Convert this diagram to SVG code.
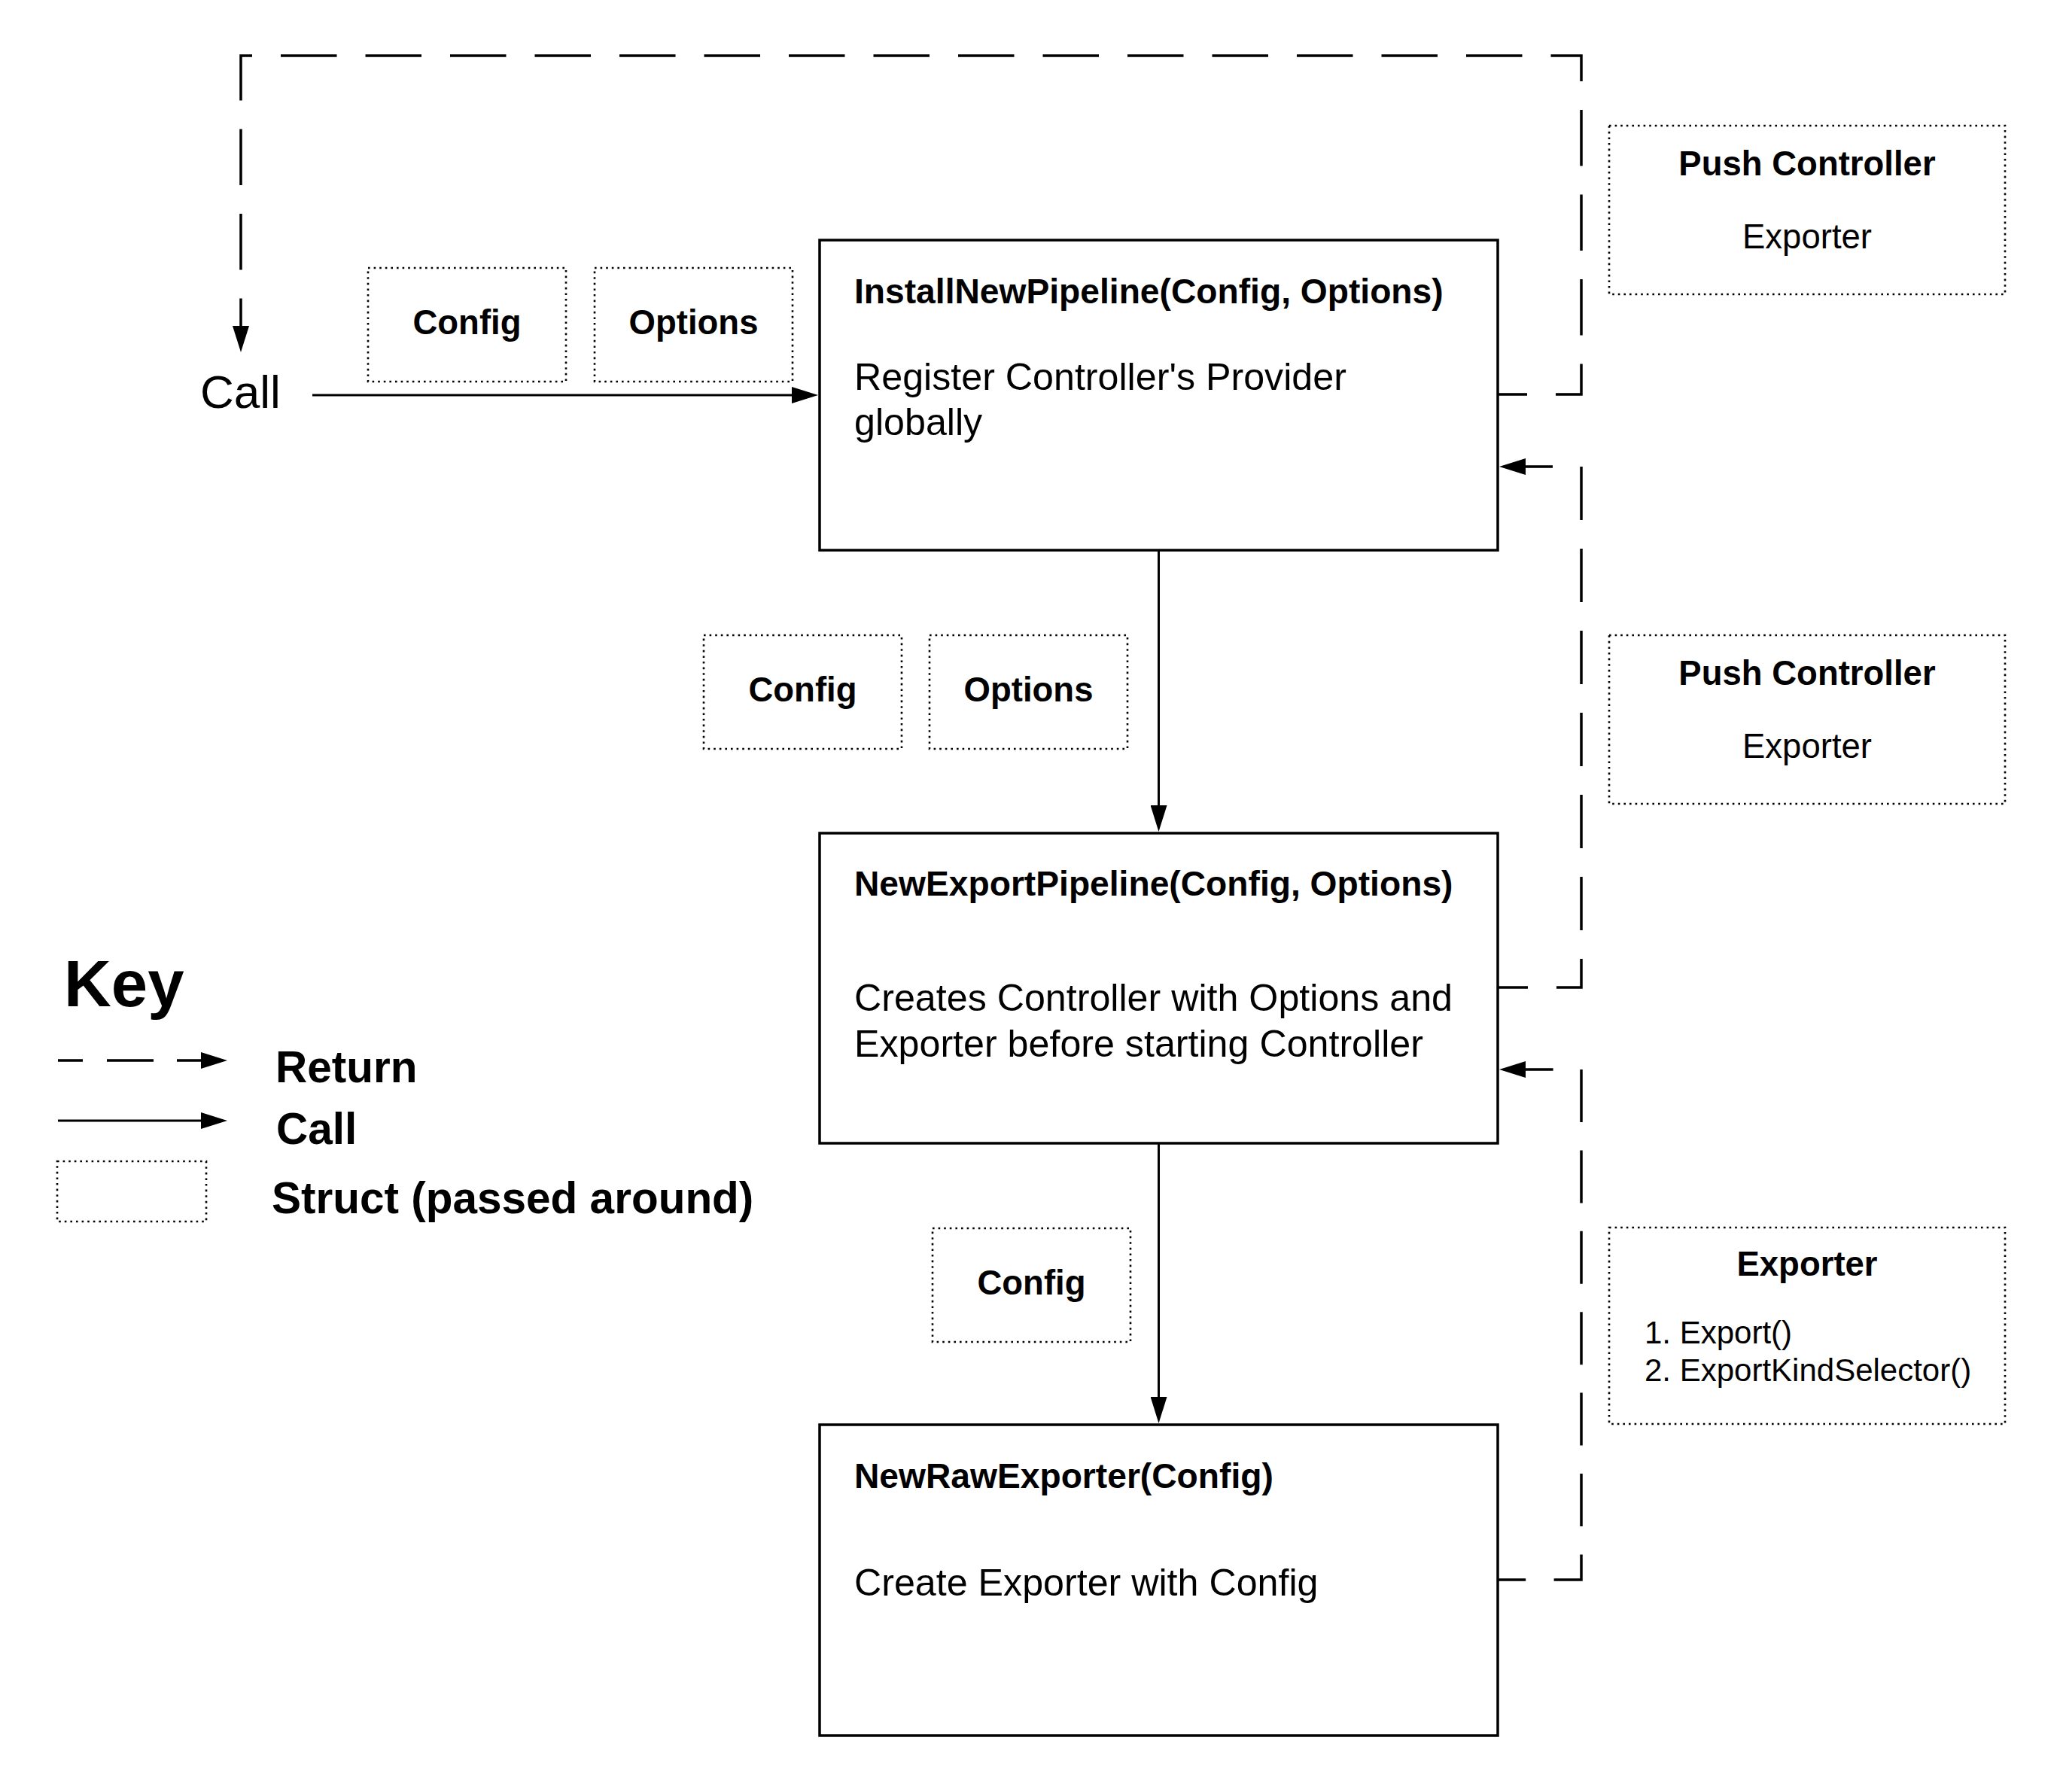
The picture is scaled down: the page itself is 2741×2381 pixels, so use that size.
<svg xmlns="http://www.w3.org/2000/svg" width="2741" height="2381" viewBox="0 0 2741 2381">
  <style>
    text { font-family: "Liberation Sans", Arial, sans-serif; fill: #000; }
    .b { font-weight: bold; }
    .mid { text-anchor: middle; }
    .box { fill: #fff; stroke: #000; stroke-width: 3.5; }
    .struct { fill: #fff; stroke: #000; stroke-width: 2.6; stroke-dasharray: 2.6 5; }
    .call { fill: none; stroke: #000; stroke-width: 3; marker-end: url(#arrow); }
    .ret { fill: none; stroke: #000; stroke-width: 3.5; marker-end: url(#arrow); }
    .t46 { font-size: 46.2px; }
    .t50 { font-size: 50.2px; }
    .t45 { font-size: 45.5px; }
    .t42 { font-size: 42px; }
    .t58 { font-size: 58.5px; }
  </style>
  <defs>
    <marker id="arrow" viewBox="0 0 35 22" refX="0" refY="11" markerWidth="35" markerHeight="22" markerUnits="userSpaceOnUse" orient="auto">
      <path d="M0,0 L35,11 L0,22 Z" fill="#000"/>
    </marker>
  </defs>

  <rect width="2741" height="2381" fill="#fff"/>

  <!-- connectors -->
  <g id="connectors">
    <!-- calls -->
    <path class="call" d="M415,525 H1052"/>
    <path class="call" d="M1539.5,731 V1070"/>
    <path class="call" d="M1539.5,1519 V1856"/>
    <!-- returns -->
    <path class="ret" d="M1990,524 H2101 V74 H320 V433" stroke-dasharray="74.5 38" stroke-dashoffset="35.5"/>
    <path class="ret" d="M1990,1312 H2101 V620 H2027" stroke-dasharray="71 38" stroke-dashoffset="31"/>
    <path class="ret" d="M1990,2099 H2101 V1421 H2027" stroke-dasharray="70 37.4" stroke-dashoffset="32.8"/>
  </g>

  <!-- caller -->
  <g id="caller">
    <text x="266" y="542" font-size="62">Call</text>
  </g>

  <!-- structs passed into InstallNewPipeline -->
  <g id="config-1">
    <rect class="struct" x="489" y="356" width="263" height="151"/>
    <text class="b mid t45" x="620.5" y="444">Config</text>
  </g>
  <g id="options-1">
    <rect class="struct" x="790" y="356" width="263" height="151"/>
    <text class="b mid t45" x="921.5" y="444">Options</text>
  </g>

  <!-- InstallNewPipeline -->
  <g id="install-new-pipeline">
    <rect class="box" x="1089" y="319" width="901" height="412"/>
    <text class="b t46" x="1135" y="403">InstallNewPipeline(Config, Options)</text>
    <text class="t50" x="1135" y="518">Register Controller's Provider</text>
    <text class="t50" x="1135" y="578">globally</text>
  </g>

  <!-- structs passed into NewExportPipeline -->
  <g id="config-2">
    <rect class="struct" x="935" y="844" width="263" height="151"/>
    <text class="b mid t45" x="1066.5" y="932">Config</text>
  </g>
  <g id="options-2">
    <rect class="struct" x="1235" y="844" width="263" height="151"/>
    <text class="b mid t45" x="1366.5" y="932">Options</text>
  </g>

  <!-- NewExportPipeline -->
  <g id="new-export-pipeline">
    <rect class="box" x="1089" y="1107" width="901" height="412"/>
    <text class="b t46" x="1135" y="1190">NewExportPipeline(Config, Options)</text>
    <text class="t50" x="1135" y="1343">Creates Controller with Options and</text>
    <text class="t50" x="1135" y="1404">Exporter before starting Controller</text>
  </g>

  <!-- struct passed into NewRawExporter -->
  <g id="config-3">
    <rect class="struct" x="1239" y="1632" width="263" height="151"/>
    <text class="b mid t45" x="1370.5" y="1720">Config</text>
  </g>

  <!-- NewRawExporter -->
  <g id="new-raw-exporter">
    <rect class="box" x="1089" y="1893" width="901" height="413"/>
    <text class="b t46" x="1135" y="1977">NewRawExporter(Config)</text>
    <text class="t50" x="1135" y="2120">Create Exporter with Config</text>
  </g>

  <!-- returned structs -->
  <g id="push-controller-1">
    <rect class="struct" x="2138" y="167" width="526" height="224"/>
    <text class="b mid t45" x="2401" y="233">Push Controller</text>
    <text class="mid t45" x="2401" y="330">Exporter</text>
  </g>
  <g id="push-controller-2">
    <rect class="struct" x="2138" y="844" width="526" height="224"/>
    <text class="b mid t45" x="2401" y="910">Push Controller</text>
    <text class="mid t45" x="2401" y="1007">Exporter</text>
  </g>
  <g id="exporter">
    <rect class="struct" x="2138" y="1631" width="526" height="261"/>
    <text class="b mid t45" x="2401" y="1695">Exporter</text>
    <text class="t42" x="2185" y="1785">1. Export()</text>
    <text class="t42" x="2185" y="1835">2. ExportKindSelector()</text>
  </g>

  <!-- key -->
  <g id="key">
    <text class="b" x="85" y="1337" font-size="87">Key</text>
    <path class="ret" d="M77,1409 H267" stroke-dasharray="33 32 62 31 32 100"/>
    <text class="b t58" x="366" y="1438">Return</text>
    <path class="call" d="M77,1489 H267"/>
    <text class="b t58" x="367" y="1520">Call</text>
    <rect class="struct" x="76" y="1543" width="198" height="80"/>
    <text class="b t58" x="361" y="1612">Struct (passed around)</text>
  </g>
</svg>
